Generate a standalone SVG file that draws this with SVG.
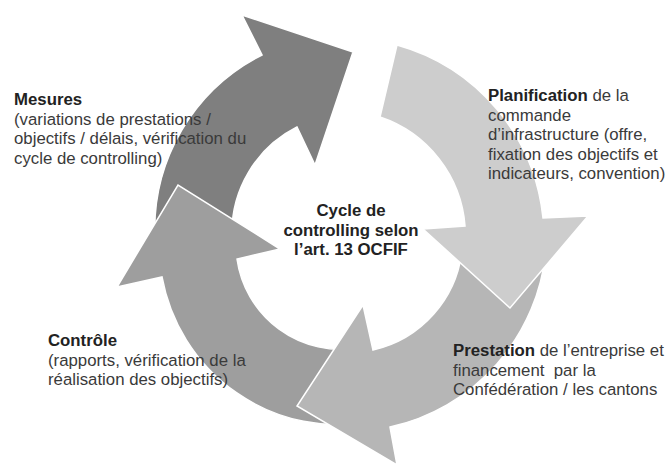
<svg xmlns="http://www.w3.org/2000/svg" width="670" height="466" viewBox="0 0 670 466">
<style>
  .arrow { stroke: #ffffff; stroke-width: 1.5; stroke-linejoin: miter; }
  .lbl { font-family: "Liberation Sans", Arial, sans-serif; font-size: 16.8px; fill: #3a3a3a; }
  .b { font-weight: bold; fill: #222222; }
  .ctr { font-family: "Liberation Sans", Arial, sans-serif; font-size: 16.8px; font-weight: bold; fill: #222222; text-anchor: middle; }
</style>
<rect width="670" height="466" fill="#ffffff"/>
<g id="connectors">
  <path id="arrow-mesures" class="arrow" fill="#7f7f7f" d="M 155,238 A 195 195 0 0 1 262,55 L 242,15 L 353,52 L 315,165 L 297,127 A 118 118 0 0 0 232,236 Z"/>
  <path id="arrow-controle" class="arrow" fill="#9e9e9e" d="M 371,422 A 180 180 0 0 1 162,277 L 117,287 L 178,185 L 280,249 L 237,259 A 105 105 0 0 0 358,348 Z"/>
  <path id="arrow-prestation" class="arrow" fill="#b6b6b6" d="M 546,250 A 200 200 0 0 1 390,427 L 397,465 L 297,406 L 363,305 L 373,350 A 115 115 0 0 0 462,250 Z"/>
  <path id="arrow-planification" class="arrow" fill="#cdcdcd" d="M 397,45 A 201 201 0 0 1 543,218 L 588,216 L 510,308 L 423,229 L 465,226 A 125 125 0 0 0 380,117 Z"/>
</g>
<g id="node-centre">
  <text class="ctr" x="351" y="216">Cycle de</text>
  <text class="ctr" x="351" y="236">controlling selon</text>
  <text class="ctr" x="351" y="255">l’art. 13 OCFIF</text>
</g>
<g id="node-mesures">
  <text class="lbl" x="14" y="105"><tspan class="b">Mesures</tspan></text>
  <text class="lbl" x="14" y="124.5">(variations de prestations /</text>
  <text class="lbl" x="14" y="144">objectifs / délais, vérification du</text>
  <text class="lbl" x="14" y="163.5">cycle de controlling)</text>
</g>
<g id="node-planification">
  <text class="lbl" x="488" y="101"><tspan class="b">Planification</tspan> de la</text>
  <text class="lbl" x="488" y="120.5">commande</text>
  <text class="lbl" x="488" y="140">d’infrastructure (offre,</text>
  <text class="lbl" x="488" y="159.5">fixation des objectifs et</text>
  <text class="lbl" x="488" y="179">indicateurs, convention)</text>
</g>
<g id="node-prestation">
  <text class="lbl" x="453" y="356"><tspan class="b">Prestation</tspan> de l’entreprise et</text>
  <text class="lbl" x="453" y="375.5" xml:space="preserve">financement  par la</text>
  <text class="lbl" x="453" y="395">Confédération / les cantons</text>
</g>
<g id="node-controle">
  <text class="lbl" x="48" y="346"><tspan class="b">Contrôle</tspan></text>
  <text class="lbl" x="48" y="365.5">(rapports, vérification de la</text>
  <text class="lbl" x="48" y="385">réalisation des objectifs)</text>
</g>
</svg>
